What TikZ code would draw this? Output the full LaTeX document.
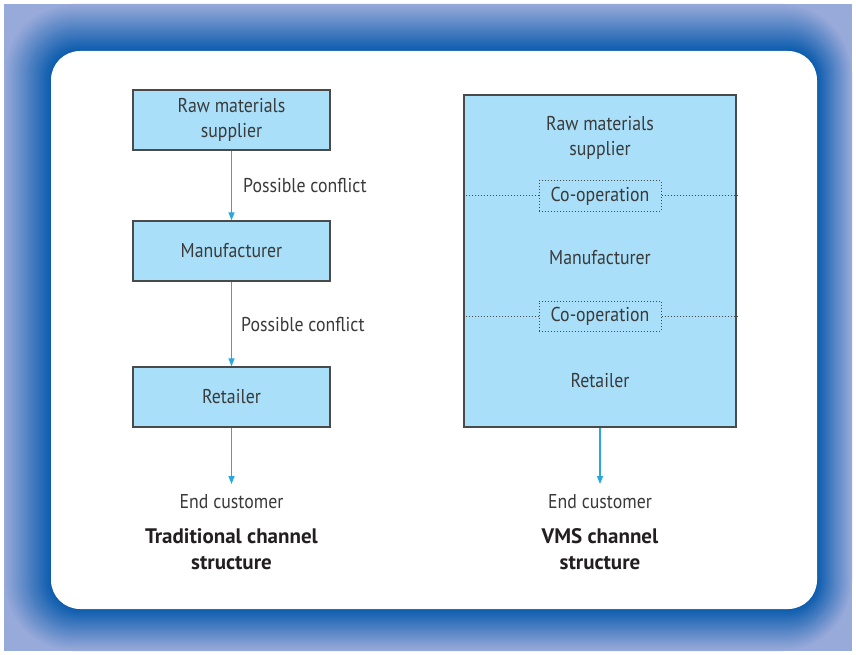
\documentclass[tikz,border=0pt]{standalone}
\usepackage{fontspec}
\setmainfont{PT Sans}[FakeStretch=0.89, BoldFeatures={FakeStretch=1.0}]
\usetikzlibrary{arrows.meta}
\definecolor{glowlight}{HTML}{98AADA}
\definecolor{glowdark}{HTML}{0A5BAD}
\definecolor{boxfill}{HTML}{A9DFF9}
\definecolor{boxline}{HTML}{4A4A4A}
\definecolor{arrowc}{HTML}{29A8E0}
\definecolor{txt}{HTML}{3A3A3A}
\definecolor{ttltxt}{HTML}{231F20}
\begin{document}
\begin{tikzpicture}[x=1pt,y=-1pt,
  stagebox/.style={draw=boxline, line width=1.4pt, fill=boxfill, minimum width=197pt, minimum height=60pt, align=center, text=txt, font=\fontsize{20}{25}\selectfont, inner sep=0pt},
  lbl/.style={text=txt, font=\fontsize{20}{25}\selectfont, align=center, inner sep=0pt},
  ttl/.style={text=ttltxt, font=\bfseries\fontsize{21}{26}\selectfont, align=center, inner sep=0pt},
  flow/.style={draw=arrowc, line width=1.3pt, -{Triangle[length=8pt,width=6pt]}},
  coop/.style={draw=boxline, dotted, line width=1pt, fill=boxfill, minimum width=122pt, minimum height=30pt, text=txt, font=\fontsize{20}{25}\selectfont, inner sep=0pt, text height=14pt, text depth=4pt},
  sepline/.style={draw=boxline, dotted, line width=1pt}
]
\useasboundingbox (0,0) rectangle (856,655);
\fill[white] (0,0) rectangle (856,655);
% gradient frame
\fill[glowlight] (4,4) rectangle (852,651);
\begin{scope}
\clip (4,4) rectangle (852,651);
\foreach \k in {0,...,48} {
  \pgfmathsetmacro{\ss}{1-\k/48}
  \pgfmathtruncatemacro{\pp}{100*\k/48}
  \pgfmathsetmacro{\xa}{51-47*\ss}
  \pgfmathsetmacro{\ya}{51-47*\ss}
  \pgfmathsetmacro{\xb}{817+35*\ss}
  \pgfmathsetmacro{\yb}{609+42*\ss}
  \pgfmathsetmacro{\rr}{29+40*\ss}
  \fill[glowdark!\pp!glowlight, rounded corners=\rr pt] (\xa,\ya) rectangle (\xb,\yb);
}
\end{scope}
\fill[white, rounded corners=29pt] (51,51) rectangle (817,609);

% traditional channel
\node[stagebox] (rm) at (231.5,120) {Raw materials\\supplier};
\node[stagebox] (mf) at (231.5,251) {Manufacturer};
\node[stagebox] (rt) at (231.5,397) {Retailer};
\node[lbl] (ec1) at (231.5,502) {End customer};
\coordinate (ec1top) at (231.5,484);
\node[lbl, anchor=west] (pc1) at (243,186) {Possible conflict};
\node[lbl, anchor=west] (pc2) at (241,324) {Possible conflict};
\node[ttl] (t1) at (231.5,549) {Traditional channel\\structure};
\draw[flow] (rm) -- (mf);
\draw[flow] (mf) -- (rt);
\draw[flow] (rt) -- (ec1top);

% VMS channel
\node[draw=boxline, line width=1.4pt, fill=boxfill, minimum width=272pt, minimum height=332pt, inner sep=0pt] (vms) at (600,261) {};
\node[lbl] (vrm) at (600,137.5) {Raw materials\\supplier};
\node[coop] (co1) at (600,196) {Co-operation};
\node[lbl] (vmf) at (600,258) {Manufacturer};
\node[coop] (co2) at (600,316) {Co-operation};
\node[lbl] (vrt) at (600,381) {Retailer};
\draw[sepline] (vms.west |- co1.west) -- (co1.west);
\draw[sepline] (co1.east) -- (vms.east |- co1.east);
\draw[sepline] (vms.west |- co2.west) -- (co2.west);
\draw[sepline] (co2.east) -- (vms.east |- co2.east);
\node[lbl] (ec2) at (600,502) {End customer};
\coordinate (ec2top) at (600,484);
\node[ttl] (t2) at (600,549) {VMS channel\\structure};
\draw[flow] (vms) -- (ec2top);
\end{tikzpicture}
\end{document}
